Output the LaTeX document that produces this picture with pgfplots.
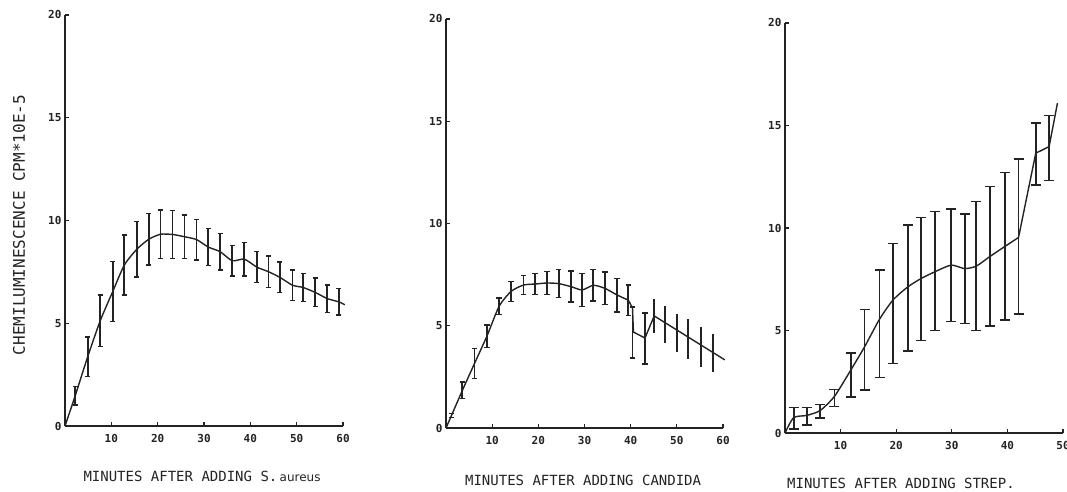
\documentclass[border=0pt]{standalone}
\usepackage{pgfplots}
\usepackage{pgfplotstable}
\usepackage{fontspec}
\pgfplotsset{compat=1.18}
\newfontfamily\plotfont[Numbers=SlashedZero]{DejaVu Sans Mono}
\newfontfamily\lcfont{DejaVu Sans}
\definecolor{ink}{RGB}{35,35,35}

% S. aureus: bar centres and half heights
\pgfplotstableread{
x y e
2.2 1.47 0.45
4.9 3.37 0.97
7.6 5.12 1.26
10.3 6.54 1.46
12.8 7.83 1.46
15.5 8.60 1.34
18.1 9.09 1.26
20.6 9.33 1.18
23.2 9.32 1.16
25.8 9.21 1.05
28.4 9.07 0.99
30.9 8.71 0.91
33.5 8.48 0.89
36.1 8.04 0.74
38.7 8.12 0.82
41.4 7.73 0.75
43.9 7.51 0.76
46.4 7.23 0.74
49.1 6.85 0.75
51.4 6.74 0.69
54.0 6.50 0.69
56.6 6.20 0.67
59.1 6.04 0.64
}\aureusbars
\pgfplotstableread{
x y
0 0
2.2 1.47
4.9 3.37
7.6 5.12
10.3 6.54
12.8 7.83
15.5 8.60
18.1 9.09
20.6 9.33
23.2 9.32
25.8 9.21
28.4 9.07
30.9 8.71
33.5 8.48
36.1 8.04
38.7 8.12
41.4 7.73
43.9 7.51
46.4 7.23
49.1 6.85
51.4 6.74
54.0 6.50
56.6 6.20
59.1 6.04
60.4 5.90
}\aureusline

% Candida
\pgfplotstableread{
x y e
1.2 0.62 0.10
3.55 1.84 0.40
6.16 3.15 0.73
8.84 4.48 0.55
11.5 5.95 0.41
14.1 6.68 0.49
16.8 6.99 0.46
19.3 7.04 0.51
21.9 7.09 0.57
24.4 7.06 0.69
27.1 6.91 0.76
29.5 6.75 0.80
31.9 6.98 0.77
34.4 6.83 0.79
37.1 6.50 0.82
39.5 6.25 0.75
40.4 4.67 1.25
43.1 4.38 1.25
}\candidabars
\pgfplotstableread{
x y e
45.1 5.48 0.83
47.4 5.06 0.90
50.0 4.65 0.93
52.5 4.35 0.98
55.2 3.96 0.98
57.8 3.67 0.93
}\candidabarsb
\pgfplotstableread{
x y
0 0
1.2 0.62
3.55 1.84
6.16 3.15
8.84 4.48
11.5 5.95
14.1 6.68
16.8 6.99
19.3 7.04
21.9 7.09
24.4 7.06
27.1 6.91
29.5 6.75
31.9 6.98
34.4 6.83
37.1 6.50
39.5 6.25
}\candidalinea
\pgfplotstableread{
x y
39.5 6.25
40.4 5.87
40.6 4.69
43.1 4.40
45.1 5.48
60.4 3.33
}\candidalineb

% Strep
\pgfplotstableread{
x y e
1.56 0.72 0.53
3.95 0.81 0.43
6.35 1.07 0.33
8.9 1.71 0.41
11.9 2.83 1.07
14.3 4.06 1.97
17.0 5.33 2.63
19.4 6.32 2.93
22.1 7.07 3.08
24.5 7.51 3.01
27.0 7.90 2.91
29.9 8.18 2.75
32.3 8.02 2.67
34.4 8.14 3.15
36.8 8.62 3.40
39.5 9.10 3.60
42.0 9.58 3.78
45.1 13.60 1.51
47.5 13.90 1.59
}\strepbars
\pgfplotstableread{
x y
0 0
1.56 0.75
3.95 0.86
6.35 1.10
8.9 1.79
11.9 3.10
14.3 4.20
17.0 5.55
19.4 6.48
22.1 7.13
24.5 7.54
27.0 7.87
29.9 8.19
32.3 8.02
34.4 8.14
36.8 8.60
39.5 9.09
42.0 9.54
}\streplinea
\pgfplotstableread{
x y
42.0 9.54
45.1 13.65
47.5 13.97
49.0 16.09
}\streplineb

\pgfplotsset{
  panel/.style={
    scale only axis,
    anchor=south west,
    axis lines*=left,
    axis line style={ink, line width=1.3pt},
    xmin=0, ymin=0, ymax=20,
    ytick={0,5,10,15,20},
    yticklabels={0,5,10,15,20},
    tick align=inside,
    major tick length=4pt,
    tick style={ink, line width=1.2pt},
    ticklabel style={ink, font=\plotfont\bfseries\fontsize{11}{11}\selectfont},
    xticklabel style={yshift=-5pt},
    xlabel style={ink, font=\plotfont\fontsize{14}{14}\selectfont, anchor=center},
    clip=false,
  },
  curve/.style={ink, line width=1.4pt, mark=none},
  bars/.style={draw=none, mark=none,
    error bars/.cd, y dir=both, y explicit,
    error bar style={draw=ink, line width=1.8pt},
    error mark options={draw=ink, rotate=90, line width=1.5pt, mark size=#1}},
}

\begin{document}
\begin{tikzpicture}
\useasboundingbox (0,0) rectangle (1067pt,492pt);

\begin{axis}[panel, at={(65pt,66pt)}, width=278pt, height=411pt,
    xmax=60, xtick={10,20,30,40,50,60}, xticklabels={10,20,30,40,50,60},
    xlabel={MINUTES AFTER ADDING S.\,{\lcfont\fontsize{12}{12}\selectfont aureus}},
    xlabel style={at={(axis description cs:0.493,0)}, yshift=-50pt},
    ylabel={CHEMILUMINESCENCE CPM*10E-5},
    ylabel style={ink, font=\plotfont\fontsize{16}{16}\selectfont,
      at={(axis description cs:-0.165,0.489)}, anchor=center}]
\addplot[curve, smooth, tension=0.4] table[x=x, y=y] {\aureusline};
\addplot[bars=2.5pt] table[x=x, y=y, y error=e] {\aureusbars};
\end{axis}

\begin{axis}[panel, at={(446pt,64pt)}, width=277pt, height=409pt,
    xmax=60, xtick={10,20,30,40,50,60}, xticklabels={10,20,30,40,50,60},
    xlabel={MINUTES AFTER ADDING CANDIDA},
    xlabel style={at={(axis description cs:0.495,0)}, yshift=-52pt}]
\addplot[curve, smooth, tension=0.4] table[x=x, y=y] {\candidalinea};
\addplot[curve] table[x=x, y=y] {\candidalineb};
\addplot[bars=2.8pt] table[x=x, y=y, y error=e] {\candidabars};
\addplot[draw=none, mark=none,
    error bars/.cd, y dir=both, y explicit, error mark=none,
    error bar style={draw=ink, line width=1.8pt}]
  table[x=x, y=y, y error=e] {\candidabarsb};
\end{axis}

\begin{axis}[panel, at={(785pt,59pt)}, width=278pt, height=410pt,
    xmax=50, xtick={10,20,30,40,50}, xticklabels={10,20,30,40,50},
    xlabel={MINUTES AFTER ADDING STREP.},
    xlabel style={at={(axis description cs:0.417,0)}, yshift=-50pt}]
\addplot[curve, smooth, tension=0.4] table[x=x, y=y] {\streplinea};
\addplot[curve] table[x=x, y=y] {\streplineb};
\addplot[bars=5pt] table[x=x, y=y, y error=e] {\strepbars};
\end{axis}
\end{tikzpicture}
\end{document}
